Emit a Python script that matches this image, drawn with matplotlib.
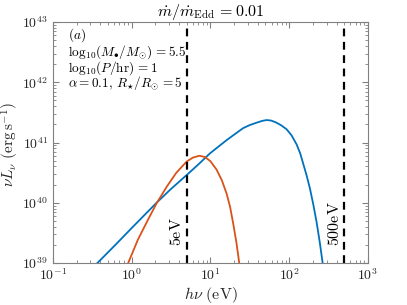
import matplotlib
matplotlib.use("Agg")
import matplotlib.pyplot as plt
import numpy as np
from matplotlib.ticker import LogLocator, NullFormatter

plt.rcParams['mathtext.fontset'] = 'cm'
plt.rcParams['font.family'] = ['DejaVu Serif']

# Data: log10 of photon energy (eV) and log10 of nu L_nu (erg/s)
disk_logE = [-0.50, -0.435, -0.2, 0.0, 0.316, 0.5, 0.698, 0.85, 0.994, 1.1, 1.206,
             1.3, 1.417, 1.5, 1.587, 1.66, 1.713, 1.77, 1.83, 1.90, 1.967, 2.03,
             2.094, 2.14, 2.178, 2.22, 2.263, 2.305, 2.348, 2.39, 2.425, 2.46]
disk_logL = [38.91, 39.0, 39.31, 39.58, 40.0, 40.23, 40.46, 40.64, 40.82, 40.93, 41.04,
             41.13, 41.24, 41.29, 41.33, 41.36, 41.373, 41.365, 41.335, 41.285, 41.22, 41.12,
             40.97, 40.82, 40.65, 40.46, 40.24, 39.98, 39.68, 39.33, 39.0, 38.6]

star_logE = [-0.10, -0.044, 0.08, 0.204, 0.316, 0.447, 0.568, 0.699, 0.778, 0.86,
             0.93, 1.0, 1.078, 1.146, 1.206, 1.25, 1.29, 1.33, 1.366, 1.39]
star_logL = [38.90, 39.0, 39.39, 39.71, 39.99, 40.27, 40.50, 40.685, 40.75, 40.78,
             40.76, 40.69, 40.55, 40.37, 40.15, 39.93, 39.65, 39.34, 39.0, 38.75]

vline_E = [5, 500]
vline_labels = ['5eV', '500eV']

xlim = (1e-1, 1e3)
ylim = (1e39, 1e43)

fig = plt.figure(figsize=(4.07, 3.05), dpi=100)
ax = fig.add_axes([0.130, 0.1377, 0.774, 0.790])

ax.plot(10 ** np.array(disk_logE), 10 ** np.array(disk_logL), color='#0072BD', lw=1.3,
        solid_joinstyle='round')
ax.plot(10 ** np.array(star_logE), 10 ** np.array(star_logL), color='#D95319', lw=1.3,
        solid_joinstyle='round')

for e, lab in zip(vline_E, vline_labels):
    ax.axvline(e, color='k', ls=(0, (3.5, 2.5)), lw=1.6)
    ax.text(e / 1.04, 10 ** 39.28, r'$\mathrm{%s}$' % lab, rotation=90,
            ha='right', va='bottom', fontsize=11.5)

ax.set_xscale('log')
ax.set_yscale('log')
ax.set_xlim(*xlim)
ax.set_ylim(*ylim)

xt = [1e-1, 1e0, 1e1, 1e2, 1e3]
ax.set_xticks(xt)
ax.set_xticklabels([r'$10^{-1}$', r'$10^{0}$', r'$10^{1}$', r'$10^{2}$', r'$10^{3}$'])
yt = [1e39, 1e40, 1e41, 1e42, 1e43]
ax.set_yticks(yt)
ax.set_yticklabels([r'$10^{39}$', r'$10^{40}$', r'$10^{41}$', r'$10^{42}$', r'$10^{43}$'])
ax.xaxis.set_minor_locator(LogLocator(base=10, subs=np.arange(2, 10), numticks=20))
ax.yaxis.set_minor_locator(LogLocator(base=10, subs=np.arange(2, 10), numticks=20))
ax.xaxis.set_minor_formatter(NullFormatter())
ax.yaxis.set_minor_formatter(NullFormatter())

grey = '#262626'
for s in ax.spines.values():
    s.set_color('#808080')
    s.set_linewidth(0.8)
ax.tick_params(which='both', direction='in', top=True, right=True, colors='#808080',
               labelcolor=grey, labelsize=10)
ax.tick_params(which='major', length=4, width=0.8)
ax.tick_params(which='minor', length=2, width=0.6)

ax.set_xlabel(r'$h\nu\ (\mathrm{eV})$', fontsize=11.5, color=grey, labelpad=1)
ax.set_ylabel(r'$\nu L_\nu\ (\mathrm{erg\,s^{-1}})$', fontsize=11, color=grey, labelpad=0)
ax.yaxis.set_label_coords(-0.10, 0.49)
ax.set_title(r'$\dot{m}/\dot{m}_{\mathrm{Edd}}\,{=}0.01$', fontsize=11.5, pad=4)

ann = [r'$(a)$',
       r'$\mathrm{log}_{10}(M_{{\bullet}}/M_{{\odot}})\,{=}5.5$',
       r'$\mathrm{log}_{10}(P/\mathrm{hr})\,{=}1$',
       r'$\alpha=0.1,\,R_{{\star}}/R_{{\odot}}\,{=}5$']
ys = [0.931, 0.862, 0.795, 0.730]
for t, y in zip(ann, ys):
    ax.text(0.047, y, t, transform=ax.transAxes, ha='left', va='baseline', fontsize=9.5)

fig.savefig('out.png', dpi=100)
